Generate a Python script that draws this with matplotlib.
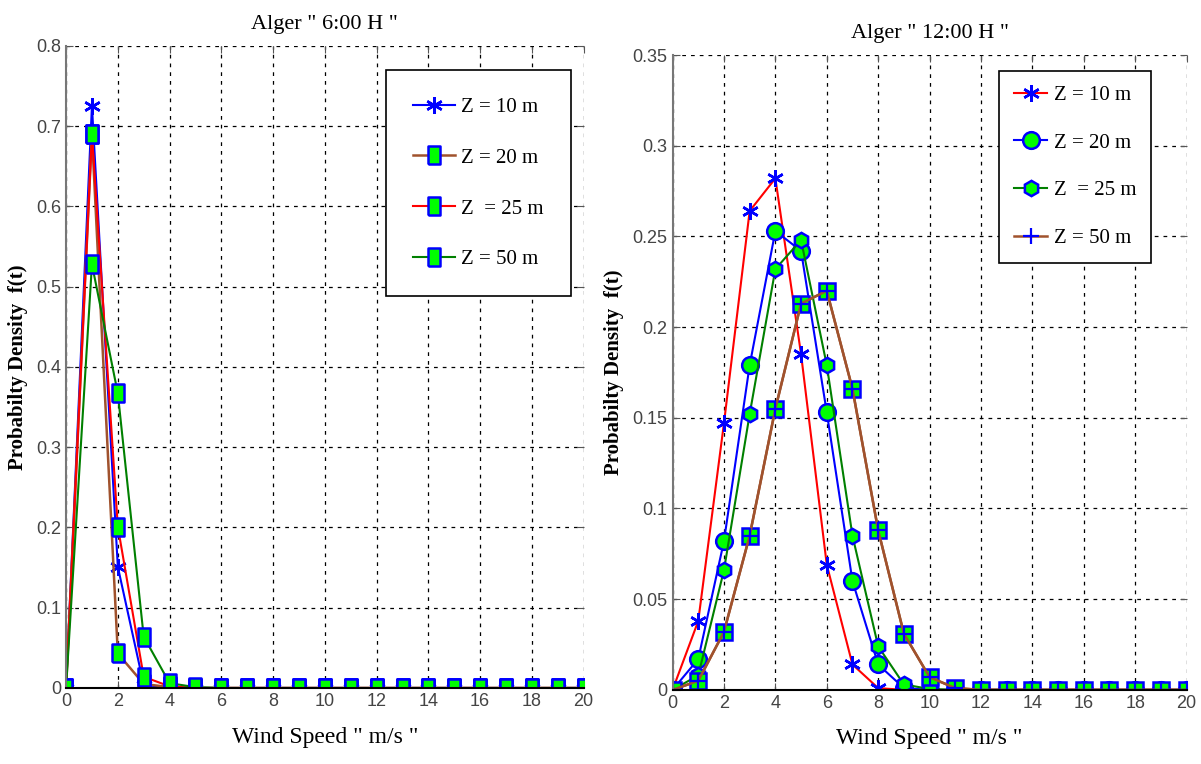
import numpy as np
import matplotlib
matplotlib.use("Agg")
import matplotlib.pyplot as plt

plt.rcParams['font.family'] = ['Liberation Serif', 'DejaVu Serif']

speed = list(range(21))

# Alger 6:00 H
left_labels = ['Z = 10 m', 'Z = 20 m', 'Z  = 25 m', 'Z = 50 m']
am_z10 = [0, 0.725, 0.151, 0.004] + [0] * 17
am_z20 = [0, 0.69, 0.043, 0.005, 0.001] + [0] * 16
am_z25 = [0, 0.69, 0.201, 0.014, 0.002] + [0] * 16
am_z50 = [0, 0.528, 0.367, 0.064, 0.006, 0.001] + [0] * 15

# Alger 12:00 H
right_labels = ['Z = 10 m', 'Z = 20 m', 'Z  = 25 m', 'Z = 50 m']
pm_z10 = [0, 0.038, 0.147, 0.264, 0.282, 0.185, 0.069, 0.014, 0.001] + [0] * 12
pm_z20 = [0, 0.017, 0.082, 0.179, 0.253, 0.242, 0.153, 0.060, 0.014, 0.001, 0] + [0] * 10
pm_z25 = [0, 0.008, 0.066, 0.152, 0.232, 0.248, 0.179, 0.085, 0.024, 0.003, 0.0005] + [0] * 10
pm_z50 = [0, 0.005, 0.032, 0.085, 0.155, 0.213, 0.220, 0.166, 0.088, 0.031, 0.007, 0.001] + [0] * 9

brown = '#a0522d'
rect = [(-0.65, -1), (0.65, -1), (0.65, 1), (-0.65, 1), (-0.65, -1)]

fig = plt.figure(figsize=(12.01, 7.64), dpi=100)
ax1 = fig.add_axes([0.055, 0.0995, 0.431, 0.8405])
ax2 = fig.add_axes([0.560, 0.097, 0.428, 0.831])

mk = dict(markerfacecolor='#00ff00', markeredgecolor='#0000ff', markeredgewidth=1.8)

# left panel
ax1.plot(speed, am_z10, color='#0000ff', lw=1.5, marker=(6, 2, 0), ms=12,
         markeredgecolor='#0000ff', markeredgewidth=1.8, label=left_labels[0])
ax1.plot(speed, am_z20, color=brown, lw=1.8, marker=rect, ms=13, label=left_labels[1], **mk)
ax1.plot(speed, am_z25, color='#ff0000', lw=1.5, marker=rect, ms=13, label=left_labels[2], **mk)
ax1.plot(speed, am_z50, color='#008000', lw=1.5, marker=rect, ms=13, label=left_labels[3], **mk)
ax1.set_ylim(0, 0.8)
ax1.set_yticks(np.arange(0, 0.81, 0.1))
ax1.set_yticklabels(['0', '0.1', '0.2', '0.3', '0.4', '0.5', '0.6', '0.7', '0.8'])
ax1.set_title('Alger " 6:00 H "', fontsize=16, pad=12)

# right panel
ax2.plot(speed, pm_z10, color='#ff0000', lw=1.5, marker=(6, 2, 0), ms=12,
         markeredgecolor='#0000ff', markeredgewidth=1.8, label=right_labels[0])
ax2.plot(speed, pm_z20, color='#0000ff', lw=1.5, marker='o', ms=12, label=right_labels[1], **mk)
ax2.plot(speed, pm_z25, color='#008000', lw=1.5, marker='h', ms=11, label=right_labels[2], **mk)
ax2.plot(speed, pm_z50, color=brown, lw=1.8, marker='s', ms=11, **mk)
ax2.plot(speed, pm_z50, color=brown, lw=1.8, marker='+', ms=12,
         markeredgecolor='#0000ff', markeredgewidth=1.6, label=right_labels[3])
ax2.set_ylim(0, 0.35)
ax2.set_yticks(np.arange(0, 0.351, 0.05))
ax2.set_yticklabels(['0', '0.05', '0.1', '0.15', '0.2', '0.25', '0.3', '0.35'])
ax2.set_title('Alger " 12:00 H "', fontsize=16, pad=12)

for ax in (ax1, ax2):
    ax.set_xlim(0, 20)
    ax.set_xticks(range(0, 21, 2))
    ax.grid(True, color='black', linestyle=(0, (3, 4)), linewidth=0.9)
    ax.tick_params(direction='in', labelsize=13, length=5, top=True, right=True,
                   labelcolor='#444444', color='#555555')
    for s in ('top', 'right'):
        ax.spines[s].set_visible(False)
    ax.spines['left'].set_color('#777777')
    ax.spines['left'].set_linewidth(1.5)
    ax.spines['bottom'].set_linewidth(1.5)
    ax.set_xlabel('Wind Speed " m/s "', fontsize=17, labelpad=12)
    ax.set_ylabel('Probabilty Density  f(t)', fontsize=15, fontweight='bold', labelpad=6)
    for lbl in ax.get_xticklabels() + ax.get_yticklabels():
        lbl.set_fontfamily(['Liberation Sans', 'DejaVu Sans'])
    ax.set_axisbelow(True)

leg1 = ax1.legend(loc='upper right', bbox_to_anchor=(0.975, 0.962), fontsize=15,
                  fancybox=False, edgecolor='black', framealpha=1,
                  labelspacing=1.5, handlelength=2.0, handletextpad=0.3,
                  borderpad=1.3, borderaxespad=0)
leg1.get_frame().set_linewidth(1.2)
leg2 = ax2.legend(loc='upper right', bbox_to_anchor=(0.93, 0.975), fontsize=15,
                  fancybox=False, edgecolor='black', framealpha=1,
                  labelspacing=1.35, handlelength=1.6, handletextpad=0.3,
                  borderpad=0.7, borderaxespad=0)
leg2.get_frame().set_linewidth(1.2)

fig.savefig('out.png', dpi=100)
